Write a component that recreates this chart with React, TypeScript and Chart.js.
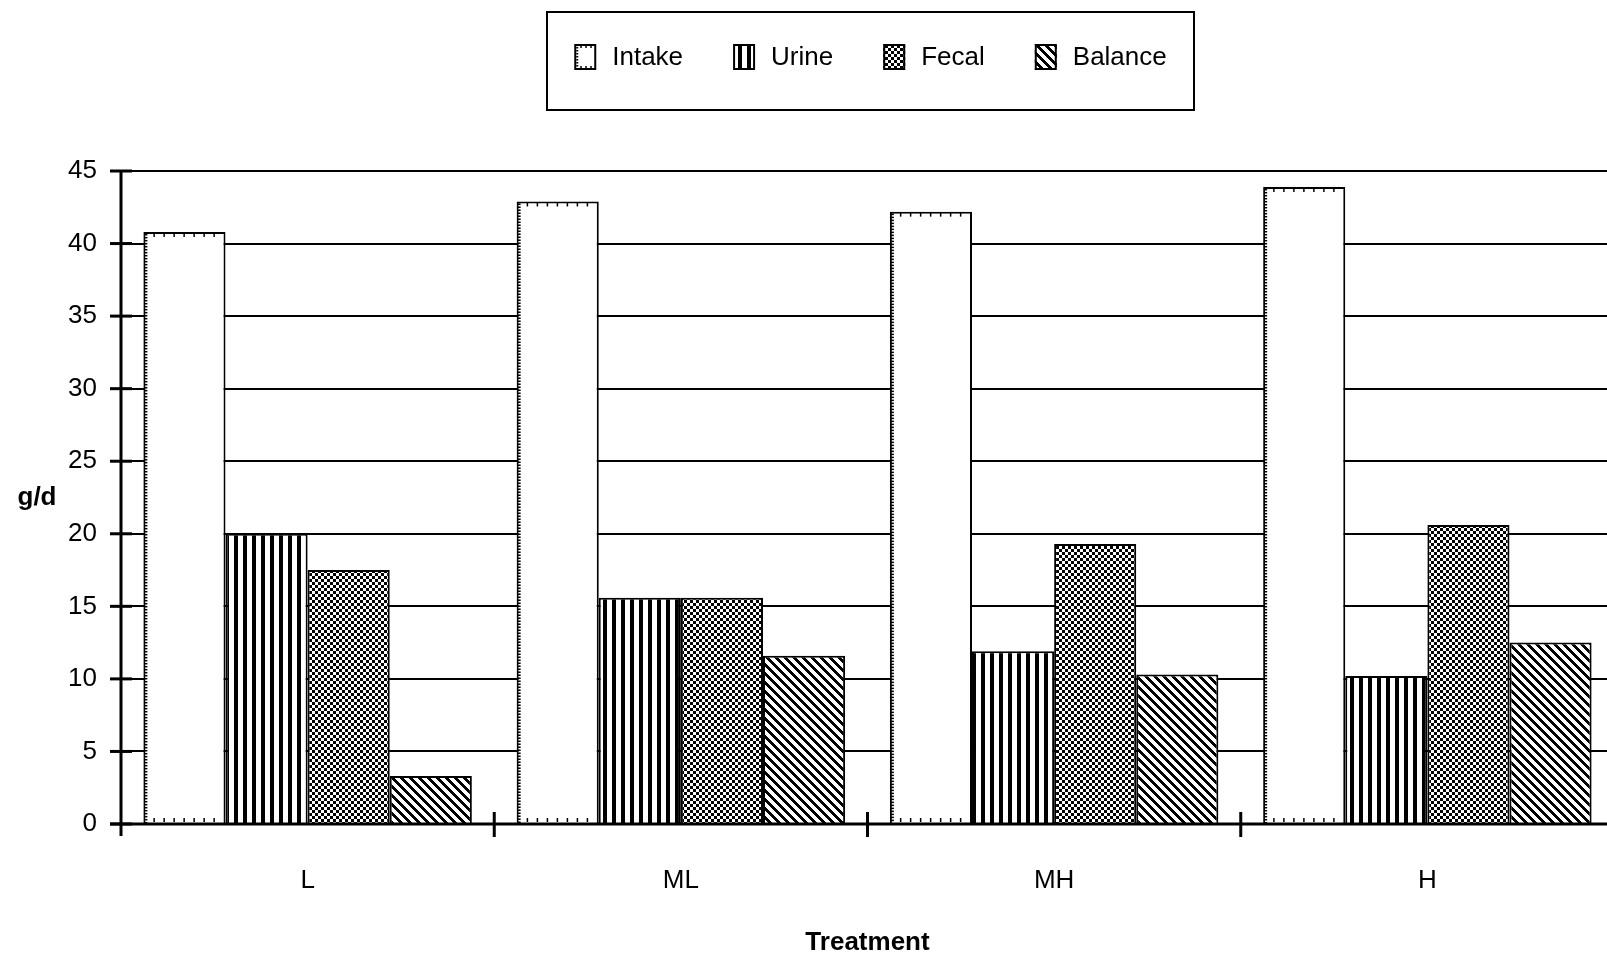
import React, { useEffect, useRef } from 'react';
import { Chart, registerables } from 'chart.js';

Chart.register(...registerables);

// ---- data ----
const categories = ['L', 'ML', 'MH', 'H'];
const seriesNames = ['Intake', 'Urine', 'Fecal', 'Balance'];
const intake = [40.8, 42.9, 42.2, 43.9];
const urine = [20.0, 15.6, 11.9, 10.2];
const fecal = [17.5, 15.6, 19.3, 20.6];
const balance = [3.3, 11.6, 10.3, 12.5];
const yTicks = [0, 5, 10, 15, 20, 25, 30, 35, 40, 45];
const xTitle = 'Treatment';
const yTitle = 'g/d';

const FONT = "'Liberation Sans', Arial, Helvetica, sans-serif";

function makePattern(w: number, h: number, draw: (c: CanvasRenderingContext2D) => void): CanvasPattern {
  const cv = document.createElement('canvas');
  cv.width = w;
  cv.height = h;
  const c = cv.getContext('2d')!;
  c.fillStyle = '#ffffff';
  c.fillRect(0, 0, w, h);
  c.fillStyle = '#000000';
  draw(c);
  return c.createPattern(cv, 'repeat')!;
}

function drawIntakeTicks(ctx: CanvasRenderingContext2D, l: number, t: number, r: number, b: number) {
  ctx.fillStyle = '#000';
  for (let y = t + 2; y < b - 1; y += 3) ctx.fillRect(l + 1, y, 3, 1.5);
  for (let x = l + 10; x < r - 4; x += 10) {
    ctx.fillRect(x, t + 1, 1.5, 4);
    ctx.fillRect(x, b - 5, 1.5, 4);
  }
}

export default function App() {
  const ref = useRef<HTMLCanvasElement>(null);

  useEffect(() => {
    const canvas = ref.current!;
    const stripe = makePattern(9, 1, (c) => c.fillRect(0, 0, 4, 1));
    const checker = makePattern(6, 6, (c) => {
      c.fillRect(0, 0, 3, 3);
      c.fillRect(3, 3, 3, 3);
    });
    const diag = makePattern(9, 9, (c) => {
      for (let y = 0; y < 9; y++)
        for (let x = 0; x < 9; x++) if ((((x - y) % 9) + 9) % 9 < 4) c.fillRect(x, y, 1, 1);
    });
    const fills: (string | CanvasPattern)[] = ['#ffffff', stripe, checker, diag];
    const values = [intake, urine, fecal, balance];

    const plugin = {
      id: 'scanStyle',
      afterDatasetsDraw(chart: any) {
        const ctx: CanvasRenderingContext2D = chart.ctx;
        const { left, bottom } = chart.chartArea;
        const xs = chart.scales.x;
        const ys = chart.scales.y;
        ctx.save();
        const meta = chart.getDatasetMeta(0);
        meta.data.forEach((el: any) => {
          const p = el.getProps(['x', 'y', 'base', 'width'], true);
          drawIntakeTicks(ctx, p.x - p.width / 2, p.y, p.x + p.width / 2, p.base);
        });
        ctx.strokeStyle = '#000';
        ctx.lineWidth = 3;
        const yTop = ys.getPixelForValue(yTicks[yTicks.length - 1]);
        ctx.beginPath();
        ctx.moveTo(left, yTop - 1);
        ctx.lineTo(left, bottom + 12);
        ctx.stroke();
        ctx.beginPath();
        ctx.moveTo(left - 11, bottom);
        ctx.lineTo(chart.width, bottom);
        ctx.stroke();
        yTicks.forEach((v) => {
          const py = ys.getPixelForValue(v);
          ctx.beginPath();
          ctx.moveTo(left - 11, py);
          ctx.lineTo(left + 11, py);
          ctx.stroke();
        });
        for (let i = 1; i <= categories.length; i++) {
          const bx = (xs.getPixelForValue(i - 1) + xs.getPixelForValue(Math.min(i, categories.length - 1))) / 2;
          const x = i < categories.length ? bx : xs.right;
          ctx.beginPath();
          ctx.moveTo(x, bottom - 12);
          ctx.lineTo(x, bottom + 13);
          ctx.stroke();
        }
        ctx.restore();
      },
      afterDraw(chart: any) {
        const ctx: CanvasRenderingContext2D = chart.ctx;
        const { top, bottom } = chart.chartArea;
        ctx.save();
        ctx.fillStyle = '#000';
        ctx.font = `bold 26px ${FONT}`;
        ctx.textAlign = 'center';
        ctx.textBaseline = 'middle';
        ctx.fillText(yTitle, 37, (top + bottom) / 2);

        const bx0 = 547, by0 = 12, bx1 = 1194, by1 = 110;
        ctx.strokeStyle = '#000';
        ctx.lineWidth = 2;
        ctx.strokeRect(bx0, by0, bx1 - bx0, by1 - by0);
        ctx.font = `26px ${FONT}`;
        const sw = 22, sh = 26, gap = 16, spacing = 50;
        const widths = chart.data.datasets.map((d: any) => ctx.measureText(d.label).width);
        const total = widths.reduce((a: number, w: number) => a + sw + gap + w, 0) + spacing * (widths.length - 1);
        let x = (bx0 + bx1) / 2 - total / 2;
        const cy = 57;
        chart.data.datasets.forEach((d: any, i: number) => {
          const sy = cy - sh / 2;
          ctx.fillStyle = d.backgroundColor;
          ctx.fillRect(x, sy, sw, sh);
          ctx.strokeStyle = '#000';
          ctx.lineWidth = 2;
          ctx.strokeRect(x + 1, sy + 1, sw - 2, sh - 2);
          if (i === 0) {
            ctx.fillStyle = '#000';
            for (let yy = sy + 3; yy < sy + sh - 2; yy += 3) ctx.fillRect(x + 2, yy, 2, 1.5);
            for (let xx = x + 6; xx < x + sw - 3; xx += 5) {
              ctx.fillRect(xx, sy + 2, 1.5, 2);
              ctx.fillRect(xx, sy + sh - 4, 1.5, 2);
            }
          }
          ctx.fillStyle = '#000';
          ctx.textAlign = 'left';
          ctx.textBaseline = 'middle';
          ctx.fillText(d.label, x + sw + gap, cy + 1);
          x += sw + gap + widths[i] + spacing;
        });
        ctx.restore();
      },
    };

    const chart = new Chart(canvas, {
      type: 'bar',
      data: {
        labels: categories,
        datasets: seriesNames.map((name, i) => ({
          label: name,
          data: values[i],
          backgroundColor: fills[i] as any,
          borderColor: '#000000',
          borderWidth: 2,
          categoryPercentage: 0.88,
          barPercentage: 1.0,
        })),
      },
      options: {
        animation: false,
        responsive: false,
        devicePixelRatio: 1,
        layout: { padding: { top: 171, right: 26, bottom: 0, left: 0 } },
        plugins: {
          legend: { display: false },
          tooltip: { enabled: false },
          title: { display: false },
        },
        scales: {
          x: {
            type: 'category',
            offset: true,
            grid: { display: false, drawTicks: false },
            border: { display: false },
            ticks: {
              color: '#000',
              font: { family: FONT, size: 26 },
              padding: 41,
              maxRotation: 0,
              autoSkip: false,
            },
            title: {
              display: true,
              text: xTitle,
              color: '#000',
              font: { family: FONT, size: 26, weight: 'bold' },
              padding: { top: 0, bottom: 0 },
            },
            afterFit: (scale: any) => {
              scale.height = 134;
            },
          },
          y: {
            type: 'linear',
            min: 0,
            max: 45,
            grid: { color: '#000000', lineWidth: 2, drawTicks: false },
            border: { display: false },
            ticks: {
              color: '#000',
              font: { family: FONT, size: 26 },
              padding: 24,
            },
            afterBuildTicks: (scale: any) => {
              scale.ticks = yTicks.map((v) => ({ value: v }));
            },
            afterFit: (scale: any) => {
              scale.width = 121;
            },
          },
        },
      },
      plugins: [plugin],
    });

    return () => chart.destroy();
  }, []);

  return (
    <div
      style={{
        position: 'fixed',
        left: 0,
        top: 0,
        width: 1607,
        height: 955,
        overflow: 'hidden',
        background: '#ffffff',
      }}
    >
      <canvas
        ref={ref}
        width={1640}
        height={958}
        style={{ position: 'absolute', left: 0, top: 0, width: 1640, height: 958 }}
      />
    </div>
  );
}
